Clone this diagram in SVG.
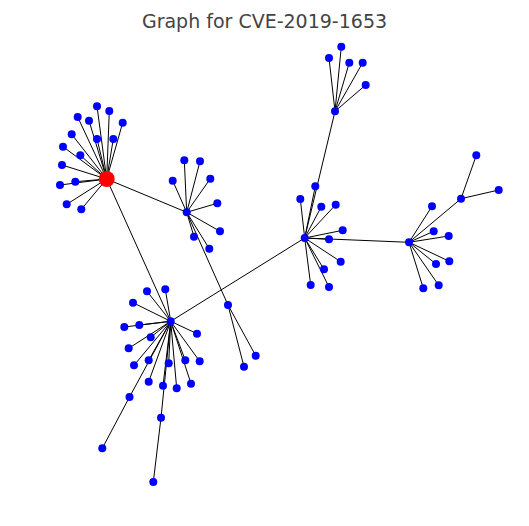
<svg xmlns="http://www.w3.org/2000/svg" width="529" height="526" viewBox="0 0 529 526">
<style>
.e{stroke:#000;stroke-width:1;fill:none}
.n{fill:#0000ff}
.r{fill:#ff0000}
.t{font-family:"DejaVu Sans",sans-serif;font-size:19px;fill:#444}
</style>
<rect width="529" height="526" fill="#fff"/>
<text class="t" x="264.5" y="28" text-anchor="middle">Graph for CVE-2019-1653</text>
<g id="edges" class="e">
<path d="M106.7,179L97,106.3M106.7,179L109.3,111M106.7,179L77.7,117M106.7,179L89,120.7M106.7,179L122.7,122.7M106.7,179L71.7,134.3M106.7,179L97,139M106.7,179L113.3,139M106.7,179L63,146.7M106.7,179L80.3,155.3M106.7,179L62,165M106.7,179L60,185M106.7,179L75.3,181.7M106.7,179L66.7,204.3M106.7,179L81.3,209.3"/>
<path d="M106.7,179L186.7,212.3M106.7,179L170.7,321.3"/>
<path d="M186.7,212.3L184.3,160.3M186.7,212.3L200,161.3M186.7,212.3L172.7,180.7M186.7,212.3L210.3,178.7M186.7,212.3L217.3,203.3M186.7,212.3L220,231.3M186.7,212.3L194,236.7M186.7,212.3L209.3,248.7M186.7,212.3L228,305M228,305L255.7,355.7M228,305L244,366.7"/>
<path d="M170.7,321.3L147,291.3M170.7,321.3L165.3,289.3M170.7,321.3L133,302.7M170.7,321.3L124.3,327M170.7,321.3L139.3,325M170.7,321.3L197,333.7M170.7,321.3L150.7,337.3M170.7,321.3L128.7,348.3M170.7,321.3L148.7,360.3M170.7,321.3L168.7,363.3M170.7,321.3L185.3,360.3M170.7,321.3L199.7,361.3M170.7,321.3L134,365.3M170.7,321.3L148.7,381.7M170.7,321.3L163,385.7M170.7,321.3L176.7,388.3M170.7,321.3L191,383.7M170.7,321.3L129.5,397M129.5,397L102.3,448.3M170.7,321.3L161,417.7M161,417.7L153.3,482"/>
<path d="M170.7,321.3L304.7,238"/>
<path d="M304.7,238L315.3,186.3M304.7,238L300.3,199M304.7,238L321.3,206.7M304.7,238L335.7,204.7M304.7,238L342.7,230.3M304.7,238L329,239.3M304.7,238L340.7,261.7M304.7,238L324,269.3M304.7,238L310.7,285M304.7,238L329,287M304.7,238L335,111.3M304.7,238L409,242.3"/>
<path d="M335,111.3L341.3,46.7M335,111.3L329,58M335,111.3L349.3,62.7M335,111.3L362.7,62.7M335,111.3L365.7,85"/>
<path d="M409,242.3L432,206.3M409,242.3L433.7,231.3M409,242.3L448.7,236M409,242.3L449.3,261.3M409,242.3L436,264M409,242.3L438.7,285.3M409,242.3L423.3,288.3M409,242.3L461,198.7M461,198.7L476.3,155.3M461,198.7L498.7,190"/>
</g>
<g id="n0"><circle class="r" cx="106.7" cy="179" r="8"/></g>
<g id="n1" class="n"><circle cx="97" cy="106.3" r="4"/><circle cx="109.3" cy="111" r="4"/><circle cx="77.7" cy="117" r="4"/><circle cx="89" cy="120.7" r="4"/><circle cx="122.7" cy="122.7" r="4"/><circle cx="71.7" cy="134.3" r="4"/><circle cx="97" cy="139" r="4"/><circle cx="113.3" cy="139" r="4"/><circle cx="63" cy="146.7" r="4"/><circle cx="80.3" cy="155.3" r="4"/><circle cx="62" cy="165" r="4"/><circle cx="60" cy="185" r="4"/><circle cx="75.3" cy="181.7" r="4"/><circle cx="66.7" cy="204.3" r="4"/><circle cx="81.3" cy="209.3" r="4"/></g>
<g id="n2" class="n"><circle cx="186.7" cy="212.3" r="4"/><circle cx="184.3" cy="160.3" r="4"/><circle cx="200" cy="161.3" r="4"/><circle cx="172.7" cy="180.7" r="4"/><circle cx="210.3" cy="178.7" r="4"/><circle cx="217.3" cy="203.3" r="4"/><circle cx="220" cy="231.3" r="4"/><circle cx="194" cy="236.7" r="4"/><circle cx="209.3" cy="248.7" r="4"/><circle cx="228" cy="305" r="4"/><circle cx="255.7" cy="355.7" r="4"/><circle cx="244" cy="366.7" r="4"/></g>
<g id="n3" class="n"><circle cx="170.7" cy="321.3" r="4"/><circle cx="147" cy="291.3" r="4"/><circle cx="165.3" cy="289.3" r="4"/><circle cx="133" cy="302.7" r="4"/><circle cx="124.3" cy="327" r="4"/><circle cx="139.3" cy="325" r="4"/><circle cx="197" cy="333.7" r="4"/><circle cx="150.7" cy="337.3" r="4"/><circle cx="128.7" cy="348.3" r="4"/><circle cx="148.7" cy="360.3" r="4"/><circle cx="168.7" cy="363.3" r="4"/><circle cx="185.3" cy="360.3" r="4"/><circle cx="199.7" cy="361.3" r="4"/><circle cx="134" cy="365.3" r="4"/><circle cx="148.7" cy="381.7" r="4"/><circle cx="163" cy="385.7" r="4"/><circle cx="176.7" cy="388.3" r="4"/><circle cx="191" cy="383.7" r="4"/><circle cx="129.5" cy="397" r="4"/><circle cx="102.3" cy="448.3" r="4"/><circle cx="161" cy="417.7" r="4"/><circle cx="153.3" cy="482" r="4"/></g>
<g id="n4" class="n"><circle cx="304.7" cy="238" r="4"/><circle cx="315.3" cy="186.3" r="4"/><circle cx="300.3" cy="199" r="4"/><circle cx="321.3" cy="206.7" r="4"/><circle cx="335.7" cy="204.7" r="4"/><circle cx="342.7" cy="230.3" r="4"/><circle cx="329" cy="239.3" r="4"/><circle cx="340.7" cy="261.7" r="4"/><circle cx="324" cy="269.3" r="4"/><circle cx="310.7" cy="285" r="4"/><circle cx="329" cy="287" r="4"/></g>
<g id="n5" class="n"><circle cx="335" cy="111.3" r="4"/><circle cx="341.3" cy="46.7" r="4"/><circle cx="329" cy="58" r="4"/><circle cx="349.3" cy="62.7" r="4"/><circle cx="362.7" cy="62.7" r="4"/><circle cx="365.7" cy="85" r="4"/></g>
<g id="n6" class="n"><circle cx="409" cy="242.3" r="4"/><circle cx="432" cy="206.3" r="4"/><circle cx="433.7" cy="231.3" r="4"/><circle cx="448.7" cy="236" r="4"/><circle cx="449.3" cy="261.3" r="4"/><circle cx="436" cy="264" r="4"/><circle cx="438.7" cy="285.3" r="4"/><circle cx="423.3" cy="288.3" r="4"/><circle cx="461" cy="198.7" r="4"/><circle cx="476.3" cy="155.3" r="4"/><circle cx="498.7" cy="190" r="4"/></g>
</svg>
